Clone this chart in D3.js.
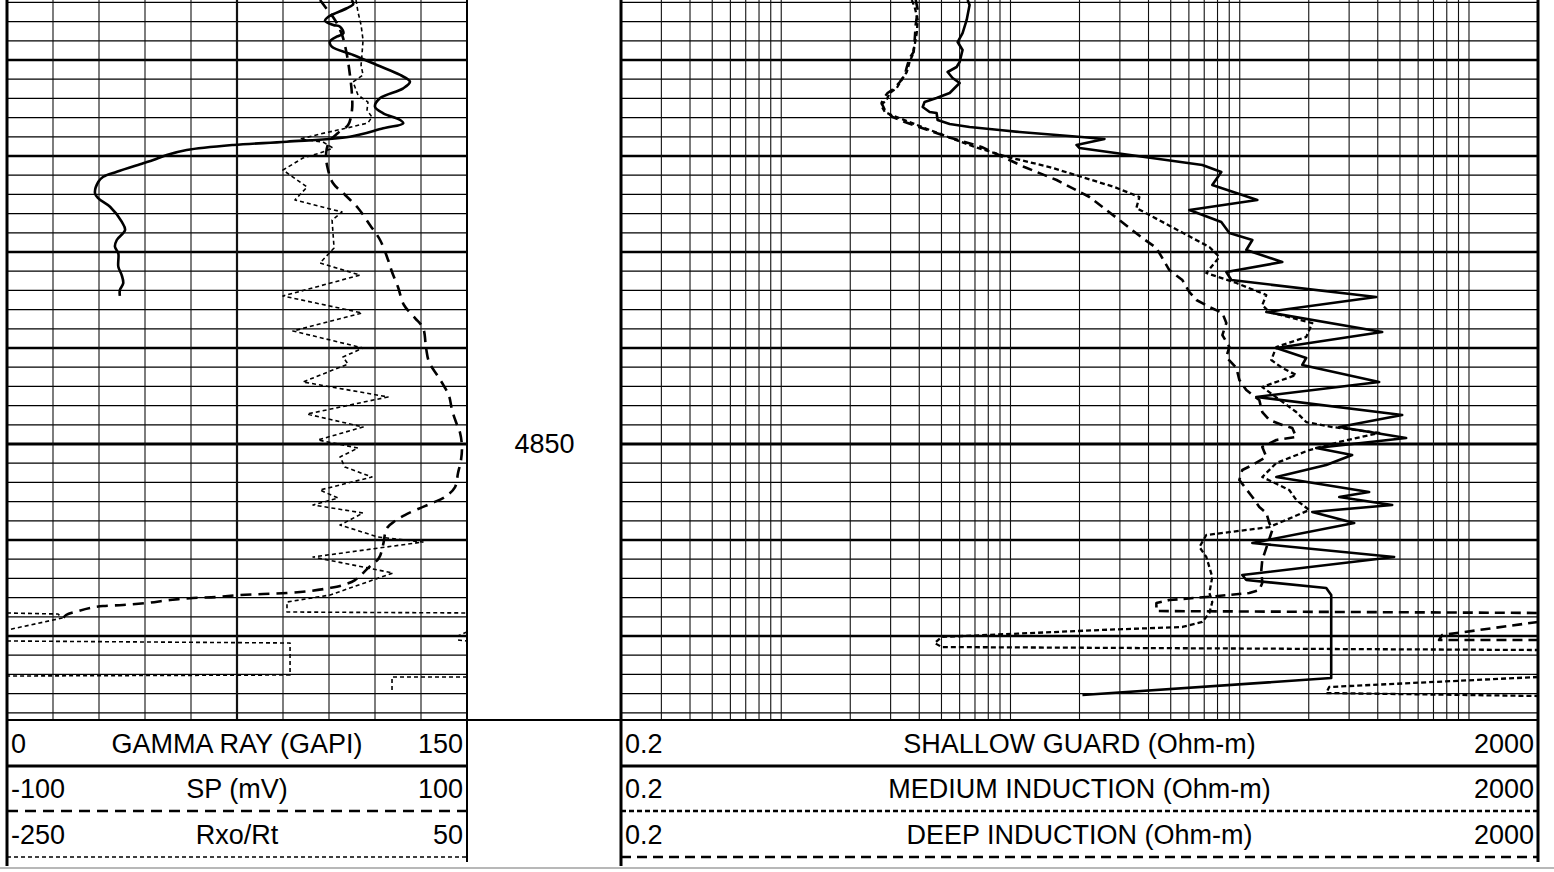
<!DOCTYPE html>
<html><head><meta charset="utf-8">
<script src="https://cdn.jsdelivr.net/npm/d3@7"></script>
<style>html,body{margin:0;padding:0;background:#fff;overflow:hidden}svg{display:block}</style>
</head><body>
<svg id="chart" width="1554" height="872"></svg>
<script>
// ---------------- DATA ----------------
const depthRange = [4803.75, 4878.75];
const depthLabels = [4850];
const gridDepthStep = 2;

const leftMins = ["0", "-100", "-250"];
const leftNames = ["GAMMA RAY (GAPI)", "SP (mV)", "Rxo/Rt"];
const leftMaxs = ["150", "100", "50"];
const rightMins = ["0.2", "0.2", "0.2"];
const rightNames = ["SHALLOW GUARD (Ohm-m)", "MEDIUM INDUCTION (Ohm-m)", "DEEP INDUCTION (Ohm-m)"];
const rightMaxs = ["2000", "2000", "2000"];

const grScale = [0, 150];
const spScale = [-100, 100];
const rxoScale = [-250, 50];
const resScale = [0.2, 2000];

// [depth, value]
const gammaRay = [[4803.75,112.4],[4804.17,112.9],[4804.61,110.8],[4805.49,104.8],[4805.91,103.7],[4806.35,106.4],[4806.53,108.6],[4807.22,109.7],[4807.57,107.5],[4808.09,105.3],[4808.61,105.9],[4809.48,112.9],[4810.52,120.6],[4811.56,128.2],[4812.26,131.4],[4812.95,129.2],[4813.99,121.6],[4814.86,120.0],[4815.55,122.7],[4816.25,128.2],[4816.59,129.2],[4817.11,122.7],[4817.99,111.8],[4818.51,91.2],[4818.85,73.8],[4819.38,58.6],[4819.90,52.1],[4820.42,47.7],[4820.76,44.4],[4821.64,35.8],[4822.16,31.4],[4822.68,29.8],[4823.89,28.7],[4824.41,29.8],[4825.28,33.6],[4826.84,37.4],[4827.71,38.5],[4828.75,35.8],[4829.45,35.2],[4830.14,36.3],[4831.53,36.3],[4832.40,37.4],[4833.26,37.9],[4833.96,36.8],[4834.58,36.8]];

const spontaneousPotential = [[4803.75,36.1],[4804.58,38.7],[4805.83,42.6],[4807.40,45.7],[4809.48,47.8],[4811.56,49.1],[4813.65,50.0],[4815.21,50.0],[4816.77,48.3],[4817.60,43.9],[4818.54,40.0],[4819.90,38.7],[4821.46,39.6],[4822.81,41.7],[4824.06,47.0],[4825.42,52.6],[4827.19,57.8],[4828.75,62.2],[4830.83,65.7],[4832.08,67.4],[4833.65,70.0],[4835.52,72.6],[4836.88,77.4],[4837.92,80.9],[4840.00,82.2],[4841.46,83.5],[4842.81,87.0],[4843.96,90.0],[4845.00,92.2],[4846.46,93.5],[4847.71,95.2],[4848.85,97.0],[4850.31,97.8],[4851.67,97.4],[4853.02,96.1],[4854.48,94.8],[4855.52,90.4],[4856.15,84.8],[4856.77,78.7],[4857.40,73.0],[4858.02,68.7],[4858.75,65.2],[4860.52,63.5],[4861.88,61.7],[4862.92,57.0],[4864.17,51.3],[4864.69,46.1],[4865.00,40.4],[4865.31,31.7],[4865.52,21.7],[4865.63,11.3],[4865.73,1.3],[4865.94,-8.7],[4866.04,-19.1],[4866.25,-29.1],[4866.56,-39.1],[4866.77,-49.6],[4866.88,-58.3],[4867.08,-63.9],[4867.40,-69.1],[4867.81,-74.3],[4868.33,-76.1]];

const rxoRt = [[4803.75,-22.4],[4805.00,-21.1],[4806.35,-19.1],[4807.92,-17.8],[4809.48,-18.5],[4810.52,-19.1],[4811.56,-17.8],[4812.29,-24.3],[4813.65,-21.1],[4814.38,-14.6],[4815.21,-15.2],[4815.94,-12.0],[4816.56,-14.6],[4817.08,-28.3],[4817.71,-45.9],[4818.23,-58.9],[4818.54,-43.9],[4819.17,-37.4],[4819.69,-45.9],[4820.21,-57.0],[4821.46,-70.0],[4823.23,-54.3],[4824.58,-62.2],[4825.83,-31.5],[4826.67,-38.0],[4829.58,-36.7],[4831.15,-45.9],[4832.40,-19.8],[4834.58,-70.0],[4836.35,-18.5],[4838.23,-63.5],[4840.00,-17.8],[4840.94,-30.9],[4841.67,-27.6],[4843.54,-57.0],[4845.10,-1.5],[4846.88,-54.3],[4848.23,-17.8],[4849.58,-47.2],[4850.42,-21.1],[4851.35,-32.8],[4852.40,-29.6],[4853.44,-12.0],[4854.79,-45.9],[4855.63,-34.1],[4856.35,-50.4],[4857.19,-17.8],[4858.44,-32.8],[4859.69,-8.0],[4860.21,21.3],[4861.77,-50.4],[4863.44,1.7],[4865.73,-39.3],[4866.46,-67.4],[4867.50,-67.4],[4867.60,50],null,
[4867.60,-250],[4867.71,-216.7],[4868.13,-214.1],[4869.38,-250],null,
[4869.58,50],[4870.00,44.1],[4870.42,44.1],[4870.52,50],null,
[4870.52,-250],[4870.73,-65.4],[4874.06,-65.4],[4874.17,-250],null,
[4874.27,50],[4874.27,1.1],[4875.94,1.1]];

const shallowGuard = [[4803.75,6.50],[4804.27,6.63],[4805.83,6.44],[4807.19,6.18],[4808.13,5.88],[4808.96,6.18],[4810.21,6.00],[4810.73,5.82],[4811.25,5.32],[4811.88,5.59],[4812.40,6.00],[4813.44,5.43],[4813.96,4.76],[4814.38,4.22],[4814.90,4.14],[4815.42,4.44],[4815.52,4.76],[4816.25,4.81],[4816.67,5.43],[4816.98,6.63],[4817.29,8.96],[4817.50,10.96],[4818.02,20.4],[4818.23,25.7],[4818.85,19.4],[4819.17,20.0],[4820.94,68.7],[4821.67,83.1],[4823.02,75.9],[4824.58,119.3],[4825.63,60.3],[4826.88,83.1],[4828.02,90.1],[4828.75,113.5],[4829.79,106.8],[4831.04,153.3],[4832.08,87.4],[4832.92,91.9],[4834.69,393.6],[4836.25,130.6],[4838.33,418.2],[4840.00,144.4],[4841.04,195.0],[4841.77,187.4],[4843.54,405.7],[4845.10,118.1],[4846.98,511.1],[4848.23,271.6],[4849.38,532.0],[4850.42,215.6],[4851.15,309.4],[4852.19,238.4],[4853.44,144.4],[4855.00,366.9],[4855.52,271.6],[4856.35,462.2],[4857.08,207.2],[4858.23,315.7],[4860.31,113.5],[4861.77,471.5],[4863.65,102.6],[4864.17,106.8],[4865.00,238.4],[4865.73,250.6],[4874.38,250.6],[4876.15,20.6]];

const mediumInduction = [[4803.75,3.71],[4804.48,3.82],[4805.83,3.94],[4807.19,3.90],[4808.44,3.82],[4809.48,3.74],[4810.21,3.63],[4811.25,3.53],[4811.88,3.39],[4812.92,3.19],[4813.44,2.97],[4814.17,2.88],[4814.69,2.72],[4815.42,2.83],[4815.73,3.03],[4817.08,4.22],[4819.06,6.97],[4820.10,9.71],[4821.15,14.8],[4823.23,28.4],[4824.27,36.5],[4825.42,35.4],[4829.48,73.7],[4830.52,81.5],[4832.19,71.5],[4833.23,96.7],[4834.48,130.6],[4835.52,125.4],[4836.25,134.6],[4837.40,207.2],[4838.85,195.0],[4839.90,144.4],[4841.25,137.3],[4842.08,153.3],[4842.81,176.4],[4844.06,125.4],[4846.67,176.4],[4847.71,195.0],[4848.23,253.2],[4848.85,405.7],[4849.79,271.6],[4850.63,201.0],[4851.98,144.4],[4853.44,125.4],[4854.79,164.4],[4855.83,176.4],[4856.88,201.0],[4858.65,134.6],[4859.48,71.5],[4860.73,66.7],[4861.77,71.5],[4863.85,75.9],[4865.52,73.7],[4866.46,75.9],[4867.60,73.7],[4868.54,68.7],[4869.06,56.2],[4869.38,24.4],[4870.10,5.01],[4870.73,4.67],[4871.15,5.01],[4871.46,2000],null,
[4874.27,2000],[4875.31,245.6],[4875.94,238.4],[4876.25,2000]];

const deepInduction = [[4803.75,3.86],[4804.79,3.94],[4806.35,3.86],[4807.92,3.82],[4809.17,3.78],[4809.79,3.63],[4810.73,3.53],[4811.56,3.46],[4812.29,3.29],[4812.92,3.13],[4813.44,2.91],[4813.96,2.80],[4814.48,2.74],[4815.21,2.83],[4815.94,3.06],[4816.46,3.46],[4818.02,5.32],[4819.06,7.48],[4821.15,11.5],[4822.50,15.9],[4824.27,22.1],[4825.31,25.2],[4828.54,37.6],[4829.58,43.3],[4831.88,49.3],[4832.92,56.2],[4834.17,60.3],[4835.00,64.7],[4835.73,73.7],[4836.35,84.0],[4837.40,87.4],[4838.65,84.0],[4839.90,90.1],[4840.94,87.4],[4842.08,96.7],[4843.33,99.6],[4844.38,106.8],[4845.42,121.7],[4846.67,125.4],[4847.50,134.6],[4848.02,153.3],[4848.33,169.5],[4849.27,176.4],[4849.58,144.4],[4850.31,125.4],[4851.35,130.6],[4852.19,113.5],[4852.71,102.6],[4853.75,99.6],[4855.52,113.5],[4856.56,121.7],[4857.19,130.6],[4858.23,134.6],[4858.96,138.7],[4860.52,131.9],[4862.08,125.4],[4863.13,124.2],[4864.48,125.4],[4865.21,121.7],[4865.52,110.1],[4865.94,71.5],[4866.25,49.3],[4866.56,43.3],[4867.40,43.3],[4867.60,2000],null,
[4868.54,2000],[4869.90,763],[4870.42,740.6],[4870.42,2000]];

// ---------------- LAYOUT / STYLE ----------------
const W = 1554, H = 872;
const L = {x0: 7, x1: 467};
const R = {x0: 621, x1: 1538};
const trackTop = 0, trackBottom = 720;
const headerRowsY = [744, 789, 835];
const headerLinesY = [766, 811, 857];
const FONT = "'Liberation Sans', Arial, Helvetica, sans-serif";
const FS = 27;

const svg = d3.select("#chart");
svg.append("rect").attr("width", W).attr("height", H).attr("fill", "#fff");

const y = d3.scaleLinear().domain(depthRange).range([trackTop, trackBottom]);
const xGR = d3.scaleLinear().domain(grScale).range([L.x0, L.x1]);
const xSP = d3.scaleLinear().domain(spScale).range([L.x0, L.x1]);
const xRxo = d3.scaleLinear().domain(rxoScale).range([L.x0, L.x1]);
const xRes = d3.scaleLog().domain(resScale).range([R.x0, R.x1]);

const defs = svg.append("defs");
defs.append("clipPath").attr("id", "clipL").append("rect")
  .attr("x", L.x0).attr("y", trackTop).attr("width", L.x1 - L.x0).attr("height", trackBottom - trackTop);
defs.append("clipPath").attr("id", "clipR").append("rect")
  .attr("x", R.x0).attr("y", trackTop).attr("width", R.x1 - R.x0).attr("height", trackBottom - trackTop);

// ---------------- GRID ----------------
const grid = svg.append("g");
const hDepths = d3.range(Math.ceil(depthRange[0] / gridDepthStep) * gridDepthStep, depthRange[1], gridDepthStep);
const hw = d => d % 50 === 0 ? 3 : (d % 10 === 0 ? 2.4 : 1.3);
[L, R].forEach(tr => {
  grid.append("g").selectAll("line").data(hDepths).join("line")
    .attr("x1", tr.x0).attr("x2", tr.x1)
    .attr("y1", d => y(d)).attr("y2", d => y(d))
    .attr("stroke", "#000").attr("stroke-width", hw);
});
const grTicks = d3.range(grScale[0] + 15, grScale[1], 15);
grid.append("g").selectAll("line").data(grTicks).join("line")
  .attr("x1", d => xGR(d)).attr("x2", d => xGR(d))
  .attr("y1", trackTop).attr("y2", trackBottom)
  .attr("stroke", "#111").attr("stroke-width", d => d === 75 ? 2.2 : 1.1);
const logTicks = [];
for (let e = -1; e <= 3; e++) for (let m = 1; m <= 9; m++) {
  const v = +(m * Math.pow(10, e)).toPrecision(3);
  if (v > resScale[0] && v < resScale[1]) logTicks.push(v);
}
grid.append("g").selectAll("line").data(logTicks).join("line")
  .attr("x1", d => xRes(d)).attr("x2", d => xRes(d))
  .attr("y1", trackTop).attr("y2", trackBottom)
  .attr("stroke", "#111").attr("stroke-width", 1.1);

// ---------------- CURVES ----------------
function drawCurve(data, xs, clip, width, dash, curve) {
  const line = d3.line().defined(d => d !== null)
    .x(d => xs(d[1])).y(d => y(d[0])).curve(curve || d3.curveLinear);
  svg.append("path").datum(data)
    .attr("clip-path", `url(#${clip})`)
    .attr("d", line).attr("fill", "none")
    .attr("stroke", "#000").attr("stroke-width", width)
    .attr("stroke-linejoin", "round")
    .attr("stroke-dasharray", dash);
}
drawCurve(rxoRt, xRxo, "clipL", 1.6, "4,3");
drawCurve(spontaneousPotential, xSP, "clipL", 2.6, "11,7", d3.curveCatmullRom.alpha(0.5));
drawCurve(gammaRay, xGR, "clipL", 2.6, null, d3.curveCatmullRom.alpha(0.5));
drawCurve(mediumInduction, xRes, "clipR", 2.3, "5,3");
drawCurve(deepInduction, xRes, "clipR", 2.6, "10,6");
drawCurve(shallowGuard, xRes, "clipR", 2.6, null);

// ---------------- BORDERS ----------------
const b = svg.append("g").attr("stroke", "#000");
b.append("line").attr("x1", L.x0).attr("x2", L.x0).attr("y1", 0).attr("y2", 866).attr("stroke-width", 3);
b.append("line").attr("x1", L.x1).attr("x2", L.x1).attr("y1", 0).attr("y2", 862).attr("stroke-width", 2);
b.append("line").attr("x1", R.x0).attr("x2", R.x0).attr("y1", 0).attr("y2", 866).attr("stroke-width", 3);
b.append("line").attr("x1", R.x1).attr("x2", R.x1).attr("y1", 0).attr("y2", 862).attr("stroke-width", 3);
b.append("line").attr("x1", L.x0).attr("x2", R.x1).attr("y1", trackBottom).attr("y2", trackBottom).attr("stroke-width", 2);
svg.append("line").attr("x1", 0).attr("x2", W).attr("y1", 868).attr("y2", 868)
  .attr("stroke", "#a0a0a0").attr("stroke-width", 1.5);

svg.append("g").selectAll("text").data(depthLabels).join("text")
  .attr("x", (L.x1 + R.x0) / 2 + 0.5).attr("y", d => y(d))
  .attr("text-anchor", "middle").attr("dominant-baseline", "central")
  .attr("font-family", FONT).attr("font-size", FS).attr("fill", "#000")
  .text(d => d);

// ---------------- HEADERS ----------------
const leftLineStyles = [{w: 3, dash: null}, {w: 2.6, dash: "11,7"}, {w: 1.6, dash: "4,3"}];
const rightLineStyles = [{w: 3, dash: null}, {w: 2.4, dash: "5,3"}, {w: 2.6, dash: "10,6"}];

function header(tr, mins, names, maxs, styles) {
  const g = svg.append("g").attr("font-family", FONT).attr("font-size", FS).attr("fill", "#000");
  names.forEach((n, i) => {
    const yy = headerRowsY[i];
    g.append("text").attr("x", tr.x0 + 4).attr("y", yy).attr("dominant-baseline", "central").text(mins[i]);
    g.append("text").attr("x", (tr.x0 + tr.x1) / 2).attr("y", yy).attr("text-anchor", "middle").attr("dominant-baseline", "central").text(n);
    g.append("text").attr("x", tr.x1 - 4).attr("y", yy).attr("text-anchor", "end").attr("dominant-baseline", "central").text(maxs[i]);
    svg.append("line").attr("x1", tr.x0).attr("x2", tr.x1)
      .attr("y1", headerLinesY[i]).attr("y2", headerLinesY[i])
      .attr("stroke", "#000").attr("stroke-width", styles[i].w)
      .attr("stroke-dasharray", styles[i].dash);
  });
}
header(L, leftMins, leftNames, leftMaxs, leftLineStyles);
header(R, rightMins, rightNames, rightMaxs, rightLineStyles);
</script>
</body></html>
